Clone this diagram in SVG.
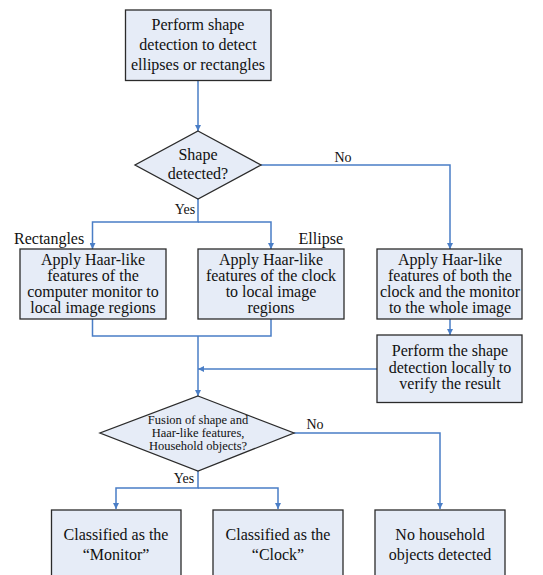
<svg xmlns="http://www.w3.org/2000/svg" width="543" height="575" viewBox="0 0 543 575">
<defs>
<marker id="ah" viewBox="0 0 6 6" refX="6" refY="3" markerWidth="6" markerHeight="6" markerUnits="userSpaceOnUse" orient="auto">
<path d="M0,0 L6,3 L0,6 Z" fill="#4A7EC6"/>
</marker>
</defs>
<style>
.box{fill:#E6ECF7;stroke:#2b2b2b;stroke-width:1.3}
.t{font-family:"Liberation Serif","Times New Roman",serif;font-size:16px;fill:#111;text-anchor:middle}
.s{font-size:12.5px}
.lbl{font-family:"Liberation Serif","Times New Roman",serif;font-size:14px;fill:#111}
.big{font-size:16px}
.c{fill:none;stroke:#4A7EC6;stroke-width:1.5}
</style>
<rect width="543" height="575" fill="#fff"/>
<g id="connectors">
<path class="c" d="M198,81 V131" marker-end="url(#ah)"/>
<path class="c" d="M261,165 H450 V249" marker-end="url(#ah)"/>
<path class="c" d="M198,198 V222 H92.5 V249" marker-end="url(#ah)"/>
<path class="c" d="M198,222 H271 V249" marker-end="url(#ah)"/>
<path class="c" d="M450,319 V335" marker-end="url(#ah)"/>
<path class="c" d="M92.5,319 V336 H271 V319"/>
<path class="c" d="M198,336 V396" marker-end="url(#ah)"/>
<path class="c" d="M377,369 H198" marker-end="url(#ah)"/>
<path class="c" d="M294,433 H440 V509" marker-end="url(#ah)"/>
<path class="c" d="M198,471 V488 H116 V509" marker-end="url(#ah)"/>
<path class="c" d="M198,488 H278 V509" marker-end="url(#ah)"/>
<text class="lbl" x="343" y="162" text-anchor="middle">No</text>
<text class="lbl" x="185" y="214" text-anchor="middle">Yes</text>
<text class="lbl big" x="14" y="244">Rectangles</text>
<text class="lbl big" x="343" y="244" text-anchor="end">Ellipse</text>
<text class="lbl" x="315" y="429" text-anchor="middle">No</text>
<text class="lbl" x="184" y="483" text-anchor="middle">Yes</text>
</g>
<g id="start">
<rect class="box" x="125.5" y="10" width="145.5" height="70.5"/>
<text class="t" x="198" y="30">Perform shape</text>
<text class="t" x="198" y="50">detection to detect</text>
<text class="t" x="198" y="70">ellipses or rectangles</text>
</g>
<g id="decision1">
<polygon class="box" points="198,131 261,165 198,199 135,165"/>
<text class="t" x="198" y="160">Shape</text>
<text class="t" x="198" y="179">detected?</text>
</g>
<g id="monitorHaar">
<rect class="box" x="20" y="249" width="146" height="70"/>
<text class="t" x="93" y="265">Apply Haar-like</text>
<text class="t" x="93" y="281">features of the</text>
<text class="t" x="93" y="297">computer monitor to</text>
<text class="t" x="93" y="313">local image regions</text>
</g>
<g id="clockHaar">
<rect class="box" x="198" y="249" width="146" height="70"/>
<text class="t" x="271" y="265">Apply Haar-like</text>
<text class="t" x="271" y="281">features of the clock</text>
<text class="t" x="271" y="297">to local image</text>
<text class="t" x="271" y="313">regions</text>
</g>
<g id="bothHaar">
<rect class="box" x="377" y="249" width="145" height="70"/>
<text class="t" x="450" y="265">Apply Haar-like</text>
<text class="t" x="450" y="281">features of both the</text>
<text class="t" x="450" y="297">clock and the monitor</text>
<text class="t" x="450" y="313">to the whole image</text>
</g>
<g id="verify">
<rect class="box" x="377" y="335" width="145" height="67.5"/>
<text class="t" x="450" y="356">Perform the shape</text>
<text class="t" x="450" y="373">detection locally to</text>
<text class="t" x="450" y="389">verify the result</text>
</g>
<g id="decision2">
<polygon class="box" points="198,396 294,433 198,471 100,433"/>
<text class="t s" x="198" y="424">Fusion of shape and</text>
<text class="t s" x="198" y="437">Haar-like features,</text>
<text class="t s" x="198" y="450">Household objects?</text>
</g>
<g id="monitor">
<rect class="box" x="51.5" y="510" width="129.5" height="70"/>
<text class="t" x="116" y="540">Classified as the</text>
<text class="t" x="116" y="560">“Monitor”</text>
</g>
<g id="clock">
<rect class="box" x="213" y="510" width="130" height="70"/>
<text class="t" x="278" y="540">Classified as the</text>
<text class="t" x="278" y="560">“Clock”</text>
</g>
<g id="none">
<rect class="box" x="375" y="510" width="130" height="70"/>
<text class="t" x="440" y="540">No household</text>
<text class="t" x="440" y="560">objects detected</text>
</g>
</svg>
